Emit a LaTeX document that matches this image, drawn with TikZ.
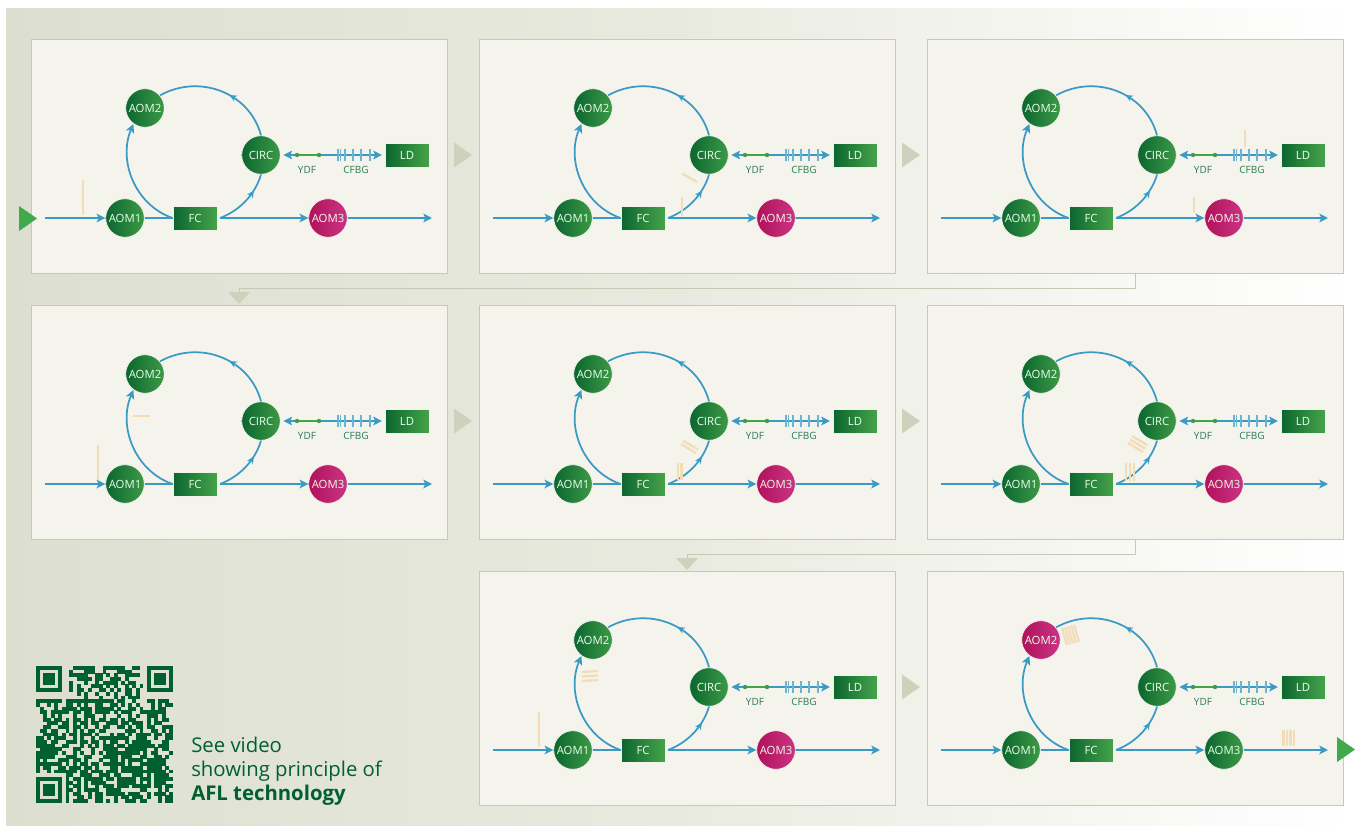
\documentclass[tikz,border=0pt]{standalone}
\usepackage{fontspec}
\setmainfont{Open Sans}
\usepackage{tikz}
\usetikzlibrary{arrows.meta}
\usetikzlibrary{decorations.markings}

\definecolor{bgleft}{HTML}{DCDFD0}
\definecolor{bgmid}{HTML}{E9EADF}
\definecolor{panelfill}{HTML}{F4F3EC}
\definecolor{panelline}{HTML}{C8C9B4}
\definecolor{chevron}{HTML}{CFD1BD}
\definecolor{fibre}{HTML}{3A9AC4}
\definecolor{darkgreen}{HTML}{0B662F}
\definecolor{lightgreen}{HTML}{46A34A}
\definecolor{darkpink}{HTML}{B0125A}
\definecolor{lightpink}{HTML}{CB3484}
\definecolor{labelgreen}{HTML}{2C7A58}
\definecolor{qrgreen}{HTML}{00602F}
\definecolor{pulsetan}{HTML}{F2DDB8}
\definecolor{entrygreen}{HTML}{3FA94B}

\tikzset{
  >={Stealth[length=6.5pt,width=6.5pt,inset=1.5pt]},
  panelbox/.style={draw=panelline,fill=panelfill,line width=.65pt},
  device/.style={text=white!92!green,font=\fontsize{8.5}{8.5}\selectfont,inner sep=0pt,draw=white!75!panelline,line width=.6pt},
  greenaom/.style={device,circle,minimum size=29pt,left color=darkgreen,right color=lightgreen!85!darkgreen},
  pinkaom/.style={device,circle,minimum size=29pt,left color=darkpink,right color=lightpink},
  greenbox/.style={device,rectangle,minimum width=33pt,minimum height=18pt,left color=darkgreen,right color=lightgreen},
  fibreline/.style={draw=fibre,line width=1.3pt},
  midtip/.style={postaction={decorate},decoration={markings,mark=at position #1 with {\arrow{Stealth[length=5.5pt,width=5pt]}}}},
  fibretag/.style={text=labelgreen,font=\fontsize{7.5}{7.5}\selectfont,inner sep=0pt},
  pulse/.style={draw=pulsetan,line width=1.7pt},
  link/.style={draw=panelline,line width=.6pt},
}

% scans one row of the code
\newcount\qrcol
\def\qrscan#1{\ifx#1;\else
  \if#1X\fill[qrgreen] ({36+3.7*\the\qrcol-.1},{666+3.7*\qrrownum-.1}) rectangle +(3.9,3.9);\fi
  \advance\qrcol by 1
  \expandafter\qrscan\fi}

\begin{document}
\begin{tikzpicture}[x=.75pt,y=-.75pt]
  \useasboundingbox (0,0) rectangle (1355,825);
  \shade[left color=bgleft,right color=white,middle color=bgmid] (6,8) rectangle (1355,825);

  % the links between rows go under the panels
  \coordinate (turnA) at (1135,273);
  \coordinate (turnB) at (1135,539);
  \coordinate (bendA) at (239,288.5);
  \coordinate (bendB) at (687,554.5);
  \coordinate (dropA) at (239,293);
  \coordinate (dropB) at (687,559);
  \draw[link] (turnA) |- (bendA) -- (dropA);
  \draw[link] (turnB) |- (bendB) -- (dropB);
  \fill[chevron] (228,292) -- (250,292) -- (239,304) -- cycle;
  \fill[chevron] (676,558) -- (698,558) -- (687,570) -- cycle;

  \foreach \name/\dx/\dy/\aomtwo/\aomthree in {
    p1/0/0/greenaom/pinkaom, p2/448/0/greenaom/pinkaom, p3/896/0/greenaom/pinkaom,
    p4/0/266/greenaom/pinkaom, p5/448/266/greenaom/pinkaom, p6/896/266/greenaom/pinkaom,
    p7/448/532/greenaom/pinkaom, p8/896/532/pinkaom/greenaom} {
  \begin{scope}[shift={(\dx,\dy)}]
    \draw[panelbox] (31,39) rectangle (447,273);
    \node[greenaom] (\name-aom1) at (125,218) {AOM1};
    \node[\aomtwo] (\name-aom2) at (145,108) {AOM2};
    \node[greenaom] (\name-circ) at (261,155) {CIRC};
    \node[\aomthree] (\name-aom3) at (328,218) {AOM3};
    \node[greenbox] (\name-fc) at (195,218) {FC};
    \node[greenbox] (\name-ld) at (407,155) {LD};
    \coordinate (\name-in) at (45,218);
    \coordinate (\name-out) at (432,218);
    \coordinate (\name-ydfa) at (297,155);
    \coordinate (\name-ydfb) at (319,155);
    \draw[fibreline,->] (\name-in) -- (\name-aom1);
    \draw[fibreline] (\name-aom1) -- (\name-fc);
    \draw[fibreline,->] ([xshift=2pt]\name-fc.east) -- (\name-aom3);
    \draw[fibreline,->] (\name-aom3) -- (\name-out);
    \draw[fibreline,midtip=.72] ([xshift=2pt]\name-fc.east) to[out=21,in=253,looseness=.9] (\name-circ.south);
    \draw[fibreline,midtip=.42] (\name-circ.north) to[out=105,in=29,looseness=1.05] (\name-aom2.40);
    \draw[fibreline,->] (\name-fc.west) to[out=161,in=247] (\name-aom2.234);
    \draw[fibreline,<->] ([xshift=2pt]\name-circ.east) -- ([xshift=-2pt]\name-ld.west);
    \draw[draw=lightgreen,line width=1.3pt] (\name-ydfa) -- (\name-ydfb);
    \fill[lightgreen!90!darkgreen] (\name-ydfa) circle (2.2);
    \fill[lightgreen!90!darkgreen] (\name-ydfb) circle (2.2);
    \foreach \tick in {338,340.5,345,353,361,370}
      \draw[fibre!75!white,line width=1pt] (\tick,149) -- (\tick,161);
    \node[fibretag] (\name-ydf) at (307,170) {YDF};
    \node[fibretag] (\name-cfbg) at (356,170) {CFBG};
  \end{scope}
  }

  % grey arrows from panel to panel
  \foreach \tipx/\tipy in {454/155,902/155,454/421,902/421,902/687}
    \fill[chevron] (\tipx,\tipy-12.5) -- (\tipx+18,\tipy) -- (\tipx,\tipy+12.5) -- cycle;

  % green arrows in and out
  \fill[entrygreen] (19,206) -- (37,218.5) -- (19,231) -- cycle;
  \fill[entrygreen] (1337,737) -- (1355,749.5) -- (1337,762) -- cycle;

  % pulses, panel by panel
  \draw[pulse] (83,180) -- (83,215);
  \draw[pulse] (682,173.5) -- (697,182);
  \draw[pulse] (682,197) -- (682,216);
  \draw[pulse] (1245,130) -- (1245,147);
  \draw[pulse] (1194,197) -- (1194,213);
  \draw[pulse] (98,445) -- (98,480);
  \draw[pulse] (133,416) -- (150,416);
  \foreach \k in {0,1}
    \draw[pulse] (681+2*\k,444-3.5*\k) -- (696+2*\k,453-3.5*\k);
  \foreach \k in {0,1}
    \draw[pulse] (678+3.5*\k,463) -- (678+3.5*\k,480);
  \foreach \k in {0,1,2}
    \draw[pulse] (1128+2*\k,443-3.5*\k) -- (1143+2*\k,452-3.5*\k);
  \foreach \k in {0,1,2}
    \draw[pulse] (1126+4*\k,463) -- (1126+4*\k,481);
  \foreach \k in {0,1,2}
    \draw[pulse] (582,672+4.5*\k) -- (598,671+4.5*\k);
  \draw[pulse] (539,712) -- (539,747);
  \foreach \k in {0,1,2,3,4}
    \draw[pulse] (1062+3*\k,628-.8*\k) -- (1067+3*\k,645-.8*\k);
  \foreach \k in {0,1,2,3}
    \draw[pulse] (1283.5+3.5*\k,730) -- (1283.5+3.5*\k,746);

  % the code
  \foreach \qrrow [count=\qrrownum from 0] in {
    XXXXXXX---XXXXXX--XXXXXX--XX--XXXXXXX,
    X-----X--X---XXX--X---XXXX----X-----X,
    X-XXX-X--XXXXX--XX-X-X--XXXX--X-XXX-X,
    X-XXX-X----XXXX-XX--XXX-X-----X-XXX-X,
    X-XXX-X--X---X--X-XXXX-X-XX---X-XXX-X,
    X-----X--X-X---XXX-X-X--X-X-X-X-----X,
    XXXXXXX--X-XX-X--XX-X-X-XX-X--XXXXXXX,
    -----------X-X--X--X-X--XX-X---------,
    -------------X---X---X-X-XXX---------,
    XXXXXXX-XXXXXXXXXXXXX-XX--X---XX-XXX-,
    X--X-X--XX-X-X--XX--XX-X-X-X---X-X-XX,
    -X---X-XXXX-XXX-XXXXX-X--XX-X--X-XX--,
    -XX-XXXXX-XX-XX-XXXX-X-XXX--XXXXXXX--,
    --X-X-X---X--XXX--X---X--X-X--XXX-X--,
    --XX-XX-X-XX-X-X-XX-XX-X-XX---X-X-XX-,
    ---XXX-XX-X-XX-XX--XXX-XX-XXX-X-XX---,
    --XX--XXX-XX-X--X-XX--XX-X-XX-XX--XXX,
    -XX-XX--X-X-X-XX-XX-----XXX-X--XX-X-X,
    --XXXX-X-XX-XXX-X---X-XX-X-XXXX-XX-XX,
    XX-X-XXX--X-X--X-XXXXXXXX--XXX--X--XX,
    XXX-XX--XXX-XX-XX-X-XX--X-XXXXX---XX-,
    XXXXX--XX---X-X-X-XXX-XX-XXXXXXX-XXX-,
    -XXXXXX---XX---X--XXXX--XXXXXX--X-XX-,
    XXXXXX-X--X-X--X-X-XXXXXXXXX-X-XX---X,
    XXXXX---XXX--XX---XXXX-XXX--XX--XX-X-,
    X-X---XXX-XX-X---X--XX-X-XXXX-XXXXX--,
    XXXXXXX-X-X-XX-XX-XXXXXX-X--XXXXXXX--,
    X-XX--XX-XXX-XX-X---XX-XXXXXX-XXXX-X-,
    X--X-XXXXXX-XX-XXX-XXX-XXXXXXXXXXXX-X,
    --------XX--XXX--XXX-XX---XXX-X-XXXX-,
    XXXXXXX-X-XX-XXXXX-XX-XXXXX-XXX-XXXXX,
    X-----X-XX-X-X-XXXX---XXXXX-X-X-XXX--,
    X-XXX-X-X-XX-X--X-XXX-XXX-XXXXX-XX-XX,
    X-XXX-X-XX-X-XXXX--XXXX-----XX---X-X-,
    X-XXX-X-X-XX--X-XX-XXXXX-XXX--X-XXX-X,
    X-----X-X--XX-X-XX---X-XX-XXX-X--X-XX,
    XXXXXXX-X-XXXX--XX-X-X--XXX-XX---X-XX} {
    \global\qrcol=0
    \expandafter\qrscan\qrrow;
  }

  \node[anchor=base west,text=qrgreen,font=\fontsize{15.25}{15.25}\selectfont,inner sep=0pt] (seevideo) at (191,752) {See video};
  \node[anchor=base west,text=qrgreen,font=\fontsize{15.25}{15.25}\selectfont,inner sep=0pt] (showing) at (191,776) {showing principle of};
  \node[anchor=base west,text=qrgreen,font=\fontsize{15.25}{15.25}\selectfont\bfseries,inner sep=0pt] (afl) at (191,800) {AFL technology};
\end{tikzpicture}
\end{document}
